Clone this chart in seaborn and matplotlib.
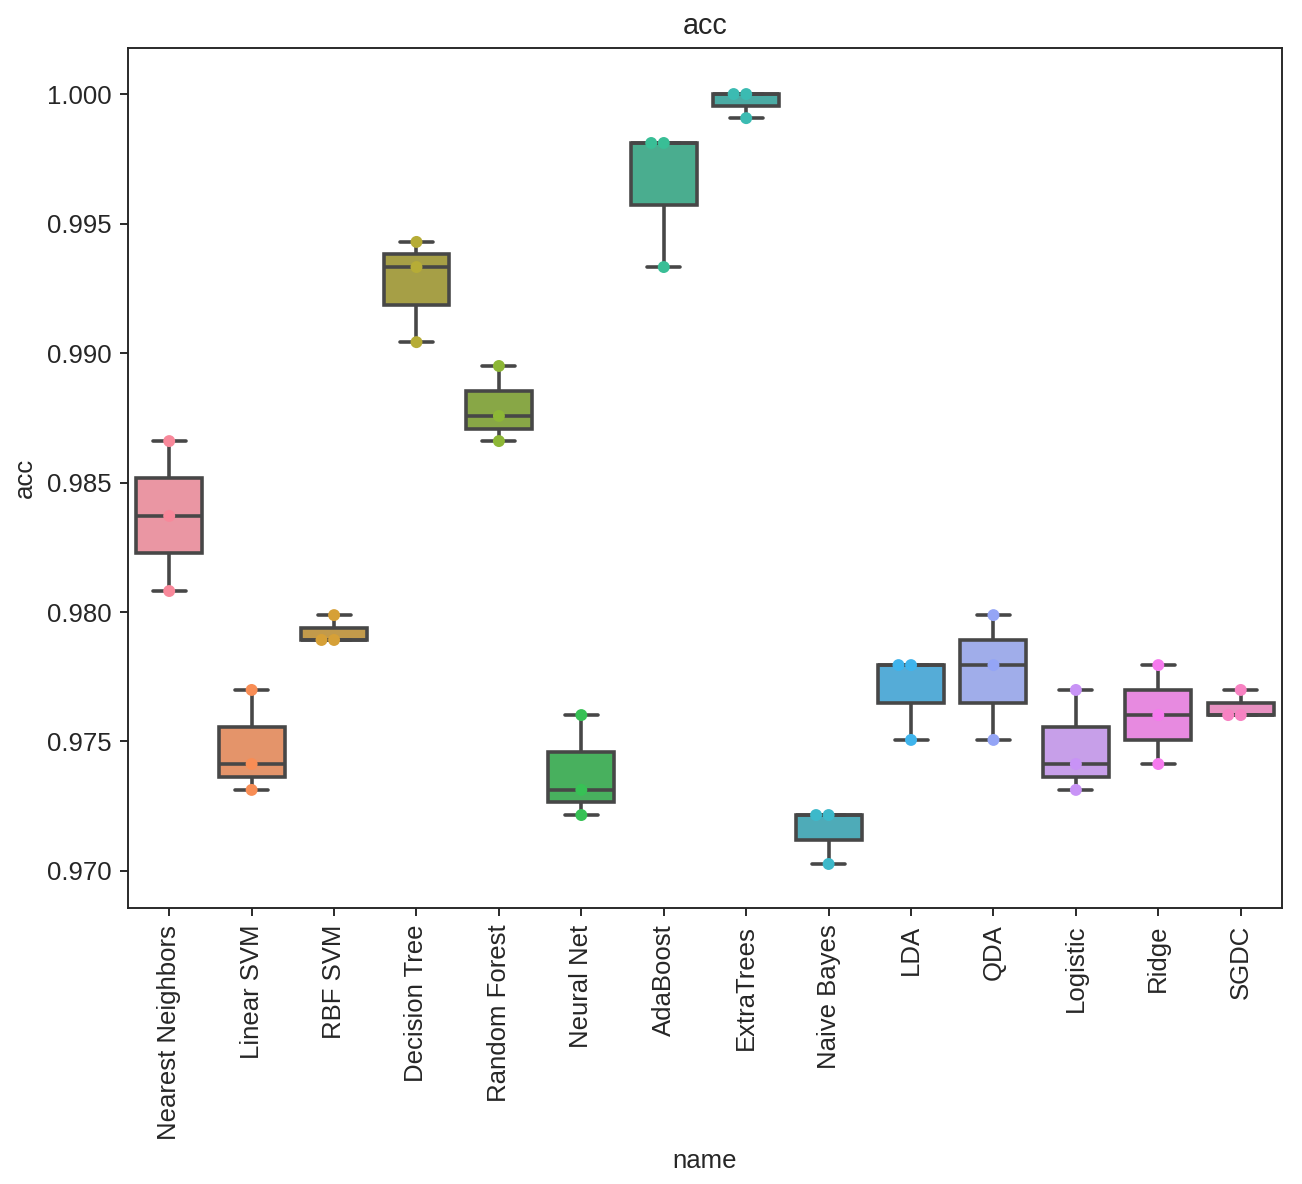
import numpy as np
import pandas as pd
import matplotlib
matplotlib.use('Agg')
import matplotlib.pyplot as plt
import seaborn as sns

# 3-fold cv accuracy per classifier
names = ['Nearest Neighbors', 'Linear SVM', 'RBF SVM', 'Decision Tree', 'Random Forest',
         'Neural Net', 'AdaBoost', 'ExtraTrees', 'Naive Bayes', 'LDA', 'QDA',
         'Logistic', 'Ridge', 'SGDC']
fold_1 = [0.98660, 0.97699, 0.97988, 0.99429, 0.98950, 0.97602, 0.99811, 1.00000,
          0.97216, 0.97795, 0.97988, 0.97699, 0.97795, 0.97699]
fold_2 = [0.98371, 0.97413, 0.97892, 0.99332, 0.98757, 0.97313, 0.99811, 1.00000,
          0.97216, 0.97795, 0.97795, 0.97413, 0.97602, 0.97602]
fold_3 = [0.98081, 0.97313, 0.97892, 0.99042, 0.98660, 0.97216, 0.99332, 0.99907,
          0.97027, 0.97506, 0.97506, 0.97313, 0.97413, 0.97602]

df = pd.DataFrame({'name': names * 3, 'acc': fold_1 + fold_2 + fold_3})

sns.set_style('ticks')
plt.rcParams['font.family'] = ['Liberation Sans', 'DejaVu Sans']
plt.rcParams['font.size'] = 10.8

fig = plt.figure(figsize=(1302 / 172, 1184 / 172), dpi=172)
ax = fig.add_subplot(1, 1, 1)
fig.subplots_adjust(left=0.0983, right=0.9846, top=0.9595, bottom=0.2331)

pal = sns.husl_palette(len(names), l=0.7)
sns.boxplot(data=df, x='name', y='acc', hue='name', order=names, hue_order=names,
            palette=pal, saturation=0.75, width=0.8, linewidth=1.5,
            linecolor='#474747', legend=False, ax=ax)
sns.swarmplot(data=df, x='name', y='acc', hue='name', order=names, hue_order=names,
              palette=pal, size=5, legend=False, ax=ax)

ax.set_ylim(0.96857, 1.00178)
ax.set_yticks([0.970, 0.975, 0.980, 0.985, 0.990, 0.995, 1.000])
ax.tick_params(axis='x', rotation=90)
ax.set_title('acc', fontsize=12)

fig.savefig('out.png', dpi=172)
